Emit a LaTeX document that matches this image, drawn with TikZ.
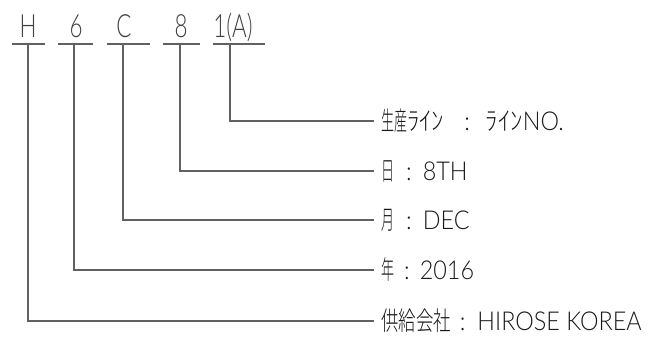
\documentclass[tikz,border=0pt]{standalone}
\usepackage{fontspec}
\newfontfamily\topfont[FakeStretch=0.7]{Lato Light}
\newfontfamily\labfont[FakeStretch=0.9]{Lato Light}
\newfontfamily\jpn[FakeStretch=0.5]{Noto Sans CJK JP Light}
\newfontfamily\jpw[FakeStretch=0.67]{Noto Sans CJK JP Light}
\newfontfamily\jpk[FakeStretch=0.95]{Noto Sans CJK JP Light}
\newcommand\kn[1]{{\jpn\fontsize{26}{26}\selectfont #1}}
\newcommand\kw[1]{{\jpw\fontsize{26}{26}\selectfont #1}}
\newcommand\kk[1]{{\jpk\fontsize{26}{26}\selectfont #1}}
\begin{document}
\begin{tikzpicture}[x=1pt,y=-1pt,
  ln/.style={draw=black!62,line width=1.1pt},
  topch/.style={anchor=base,inner sep=0pt,text=black!75,font=\topfont\fontsize{32}{32}\selectfont},
  lab/.style={anchor=west,inner xsep=7pt,inner ysep=0pt,text height=18pt,text depth=0pt,text=black!90,font=\labfont\fontsize{26}{26}\selectfont}]
\useasboundingbox (0,0) rectangle (648,337);
% top characters
\node[topch] (tH) at (28,38) {H};
\node[topch] (t6) at (76,38) {6};
\node[topch] (tC) at (124,38) {C};
\node[topch] (t8) at (181,38) {8};
\node[topch] (t1) at (233,38) {1(A)};
% underlines
\draw[ln] (12,44) -- (45,44);
\draw[ln] (58,44) -- (93,44);
\draw[ln] (107,44) -- (150,44);
\draw[ln] (163,44) -- (200,44);
\draw[ln] (213,44) -- (265,44);
\coordinate (uH) at (28,44);
\coordinate (u6) at (74,44);
\coordinate (uC) at (123,44);
\coordinate (u8) at (180,44);
\coordinate (u1) at (230,44);
% labels
\node[lab] (l1) at (374,121) {\kn{生産}\kk{ﾗｲﾝ}\hspace{20pt}:\hspace{16pt}\kk{ﾗｲﾝ}NO.};
\node[lab] (l8) at (374,171) {\kn{日}\hspace{12pt}:\hspace{11pt}8TH};
\node[lab] (lC) at (374,220) {\kn{月}\hspace{12pt}:\hspace{11pt}DEC};
\node[lab] (l6) at (374,270) {\kn{年}\hspace{10pt}:\hspace{10pt}2016};
\node[lab] (lH) at (374,321) {\kw{供給会社}\hspace{9pt}:\hspace{12pt}HIROSE KOREA};
% connectors
\draw[ln] (u1) |- (l1.west);
\draw[ln] (u8) |- (l8.west);
\draw[ln] (uC) |- (lC.west);
\draw[ln] (u6) |- (l6.west);
\draw[ln] (uH) |- (lH.west);
\end{tikzpicture}
\end{document}
